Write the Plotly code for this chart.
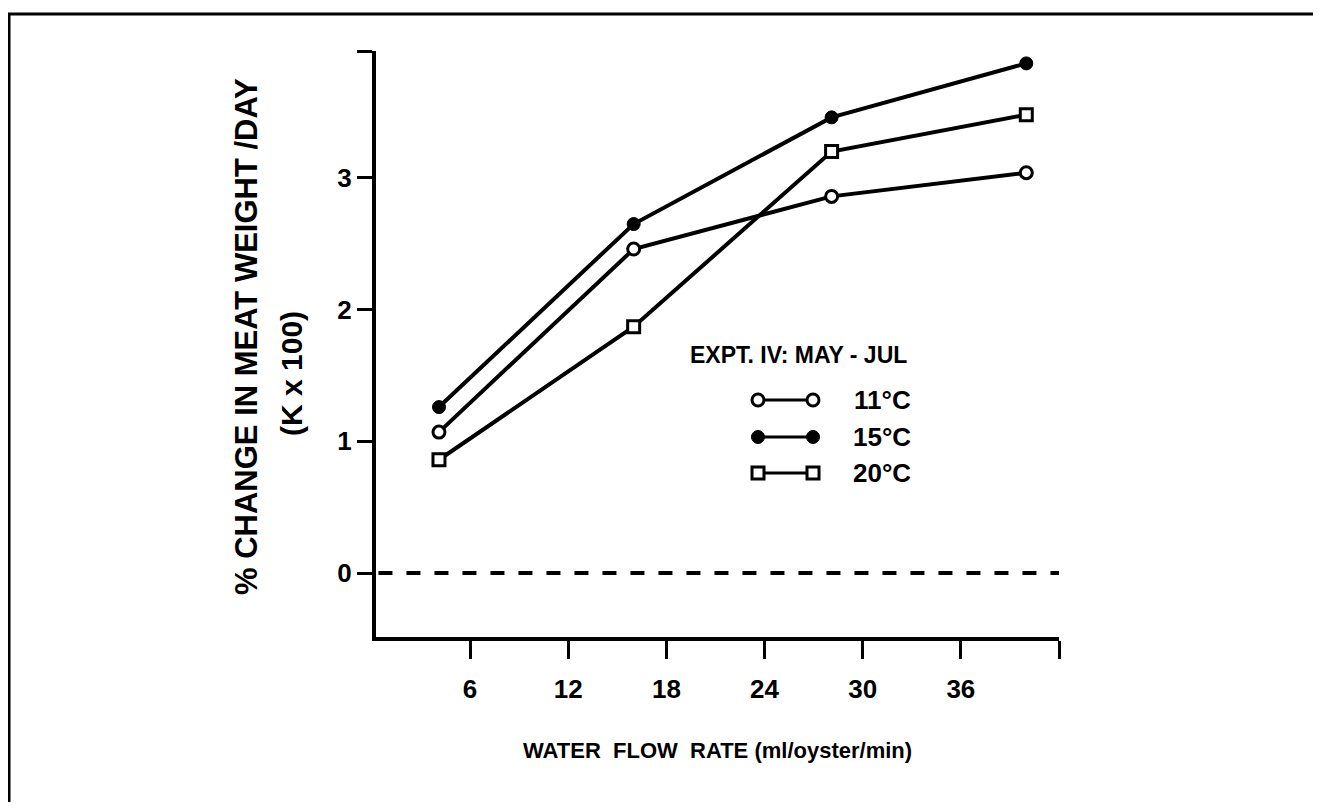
import plotly.graph_objects as go

# ---- data ----
flow = [4.1, 16.0, 28.1, 40.0]
series_names = ["11°C", "15°C", "20°C"]
y_11 = [1.07, 2.46, 2.86, 3.04]
y_15 = [1.26, 2.65, 3.46, 3.87]
y_20 = [0.86, 1.87, 3.20, 3.48]
x_tickvals = [6, 12, 18, 24, 30, 36, 42]
x_ticktext = ["6", "12", "18", "24", "30", "36", ""]
y_tickvals = [0, 1, 2, 3, 3.964]
y_ticktext = ["0", "1", "2", "3", ""]

# page body has an 8px margin: figure origin sits at screen (8, 8)
OFF = 8
W, H = 1313, 794
PL, PR, PT, PB = 376, 1059, 51, 637  # plot area in screen pixels
FONT = "Liberation Sans, Arial, sans-serif"


def fx(px):
    return (px - OFF) / W


def fy(py):
    return 1 - (py - OFF) / H


fig = go.Figure()

styles = [
    dict(symbol="circle", size=12, color="white", line=dict(color="black", width=3)),
    dict(symbol="circle", size=13, color="black", line=dict(color="black", width=1)),
    dict(symbol="square", size=12, color="white", line=dict(color="black", width=3)),
]
for name, ys, mk in zip(series_names, [y_11, y_15, y_20], styles):
    fig.add_trace(go.Scatter(x=flow, y=ys, mode="lines+markers", name=name,
                             line=dict(color="black", width=4), marker=mk,
                             showlegend=False, xaxis="x", yaxis="y", cliponaxis=False))

# legend keys drawn on a full-page pixel axis (separate transparent subplot)
leg_rows = [400, 437, 473]
leg_x0, leg_x1 = 758, 813
for name, mk, ry in zip(series_names, styles, leg_rows):
    fig.add_trace(go.Scatter(x=[leg_x0 - OFF, leg_x1 - OFF], y=[ry - OFF, ry - OFF],
                             mode="lines+markers",
                             line=dict(color="black", width=3), marker=mk,
                             showlegend=False, xaxis="x2", yaxis="y2", hoverinfo="skip"))

fig.update_layout(
    width=W, height=H,
    margin=dict(l=0, r=0, t=0, b=0),
    paper_bgcolor="white", plot_bgcolor="rgba(0,0,0,0)",
    font=dict(family=FONT, color="black", size=26),
    xaxis=dict(domain=[fx(PL), fx(PR)], range=[0.25, 42], tickvals=x_tickvals,
               ticktext=x_ticktext, ticks="outside", ticklen=18, tickwidth=3,
               tickcolor="black", showline=True, linecolor="black", linewidth=4,
               showgrid=False, zeroline=False, anchor="y", ticklabelstandoff=8,
               tickfont=dict(family=FONT, size=26, color="black", weight="bold")),
    yaxis=dict(domain=[fy(PB), fy(PT)], range=[-0.486, 3.964], tickvals=y_tickvals,
               ticktext=y_ticktext, ticks="outside", ticklen=15, tickwidth=3,
               tickcolor="black", showline=True, linecolor="black", linewidth=4,
               showgrid=False, zeroline=False, anchor="x",
               tickfont=dict(family=FONT, size=26, color="black", weight="bold")),
    xaxis2=dict(domain=[0, 1], range=[0, W], visible=False, anchor="y2",
                fixedrange=True),
    yaxis2=dict(domain=[0, 1], range=[H, 0], visible=False, anchor="x2",
                fixedrange=True),
)

# zero reference line
fig.add_shape(type="line", xref="x", yref="y", x0=0.4, x1=42, y0=0, y1=0,
              line=dict(color="black", width=4, dash="14px,14px"))

# outer frame
fig.add_shape(type="rect", xref="paper", yref="paper", x0=fx(9), x1=fx(1317),
              y0=fy(830), y1=fy(14), line=dict(color="black", width=3))


def ann(text, x, y, size, angle=0, xanchor="center"):
    fig.add_annotation(text=text, xref="paper", yref="paper", x=fx(x), y=fy(y),
                       showarrow=False, textangle=angle, xanchor=xanchor, yanchor="middle",
                       font=dict(family=FONT, size=size, color="black", weight="bold"))


ann("% CHANGE IN MEAT WEIGHT /DAY", 246, 337, 31, -90)
ann("(K x 100)", 291, 374, 30, -90)
ann("WATER  FLOW  RATE (ml/oyster/min)", 717, 750, 22)
ann("EXPT. IV: MAY - JUL", 798, 355, 23)
for name, ry in zip(series_names, leg_rows):
    ann(name, 913, ry, 26, xanchor="right")

fig.write_html("out.html")
